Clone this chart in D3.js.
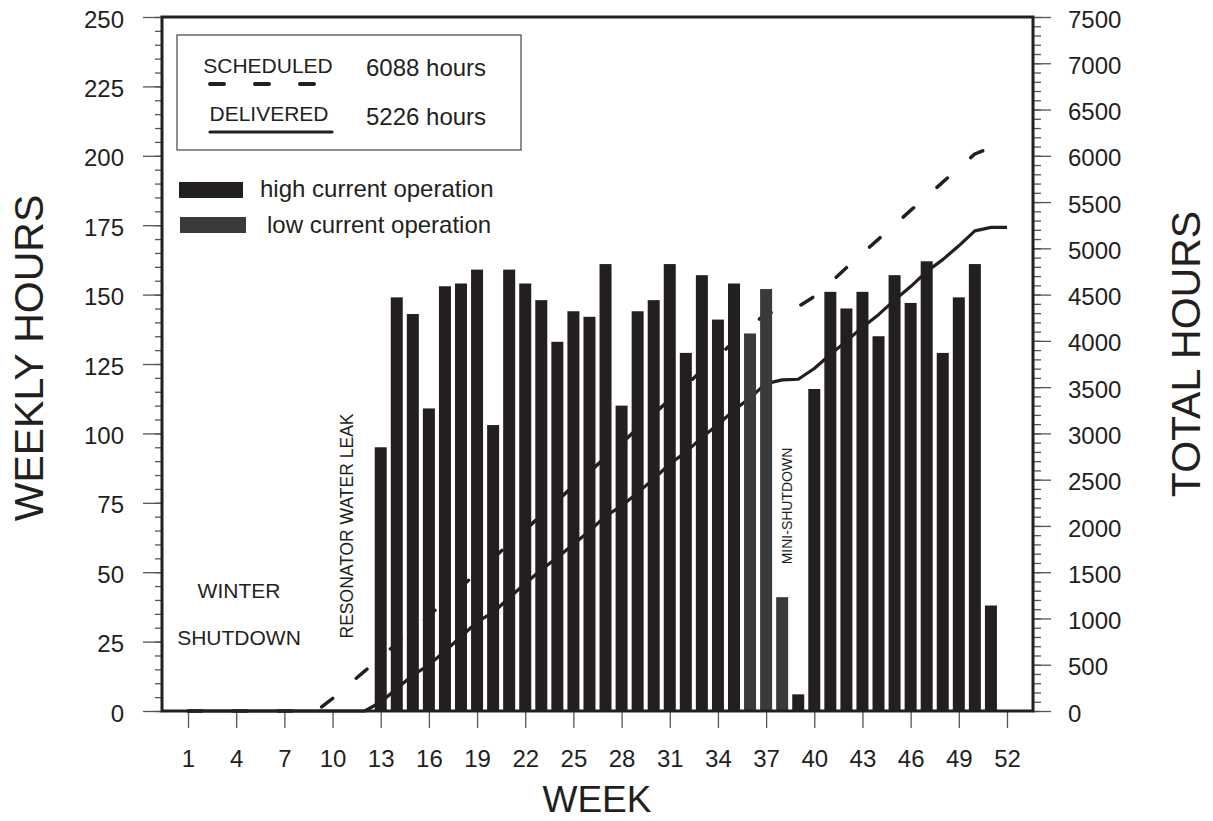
<!DOCTYPE html>
<html>
<head>
    <meta charset="utf-8">
    <script src="https://d3js.org/d3.v7.min.js"></script>
    <style>
        body {
            margin: 0;
            background: #fff;
        }

        text {
            font-family: "Liberation Sans", Arial, Helvetica, sans-serif;
            fill: #231f20;
        }

        .tick line {
            stroke: #555;
            stroke-width: 1.3px;
        }

        .domain {
            display: none;
        }
    </style>
</head>
<body>
    <div id="chart"></div>
    <script>
        const weeks = [1, 2, 3, 4, 5, 6, 7, 8, 9, 10, 11, 12, 13, 14, 15, 16, 17, 18, 19, 20, 21, 22, 23, 24, 25, 26,
            27, 28, 29, 30, 31, 32, 33, 34, 35, 36, 37, 38, 39, 40, 41, 42, 43, 44, 45, 46, 47, 48, 49, 50, 51, 52];

        // weekly delivered hours (bars)
        const weeklyHours = [0, 0, 0, 0, 0, 0, 0, 0, 0, 0, 0, 0, 95, 149, 143, 109, 153, 154, 159, 103, 159, 154,
            148, 133, 144, 142, 161, 110, 144, 148, 161, 129, 157, 141, 154, 136, 152, 41, 6, 116, 151, 145, 151,
            135, 157, 147, 162, 129, 149, 161, 38, 0];

        const lowCurrentWeeks = [36, 37, 38];

        // running totals (right axis)
        const deliveredTotal = [0, 0, 0, 0, 0, 0, 0, 0, 0, 0, 0, 0, 95, 244, 387, 496, 649, 803, 962, 1065, 1224,
            1378, 1526, 1659, 1803, 1945, 2106, 2216, 2360, 2508, 2669, 2798, 2955, 3096, 3250, 3386, 3538, 3579,
            3585, 3701, 3852, 3997, 4148, 4283, 4440, 4587, 4749, 4878, 5027, 5188, 5226, 5226];

        const scheduledTotal = [0, 0, 0, 0, 0, 0, 0, 0, 0, 135, 285, 430, 580, 730, 880, 1030, 1185, 1340, 1495,
            1650, 1805, 1960, 2115, 2275, 2430, 2585, 2740, 2895, 3055, 3210, 3365, 3520, 3680, 3835, 3990, 4145,
            4300, 4320, 4370, 4480, 4630, 4790, 4945, 5100, 5255, 5410, 5560, 5715, 5870, 6020, 6088, 6088];

        const weekTicks = [1, 4, 7, 10, 13, 16, 19, 22, 25, 28, 31, 34, 37, 40, 43, 46, 49, 52];
        const leftTicks = [0, 25, 50, 75, 100, 125, 150, 175, 200, 225, 250];
        const rightTicks = [0, 500, 1000, 1500, 2000, 2500, 3000, 3500, 4000, 4500, 5000, 5500, 6000, 6500, 7000, 7500];

        const scheduledLabel = "SCHEDULED", scheduledSum = "6088 hours";
        const deliveredLabel = "DELIVERED", deliveredSum = "5226 hours";

        const width = 1213, height = 821;
        const mLeft = 162, mRight = 1033, mTop = 17, mBottom = 711;
        const dark = "#231f20", grey = "#3a3a3d";

        const svg = d3.select("#chart").append("svg")
            .attr("width", width)
            .attr("height", height);

        const x = d3.scaleLinear().domain([-0.62, 53.62]).range([mLeft, mRight]);
        const yL = d3.scaleLinear().domain([0, 250]).range([mBottom, mTop]);
        const yR = d3.scaleLinear().domain([0, 7500]).range([mBottom, mTop]);

        // axes
        svg.append("g")
            .attr("transform", `translate(${mLeft},0)`)
            .call(d3.axisLeft(yL).tickValues(d3.range(0, 251, 5)).tickSize(7).tickFormat(""));
        svg.append("g")
            .attr("transform", `translate(${mLeft},0)`)
            .call(d3.axisLeft(yL).tickValues(leftTicks).tickSize(19).tickPadding(19))
            .selectAll("text")
            .attr("font-size", 24)
            .attr("dy", "0.42em");

        svg.append("g")
            .attr("transform", `translate(${mRight},0)`)
            .call(d3.axisRight(yR).tickValues(d3.range(0, 7501, 100)).tickSize(8).tickFormat(""));
        svg.append("g")
            .attr("transform", `translate(${mRight},0)`)
            .call(d3.axisRight(yR).tickValues(rightTicks).tickSize(18).tickPadding(17).tickFormat(d3.format("d")))
            .selectAll("text")
            .attr("font-size", 24)
            .attr("dy", "0.42em");

        svg.append("g")
            .attr("transform", `translate(0,${mBottom})`)
            .call(d3.axisBottom(x).tickValues(weekTicks).tickSize(17).tickPadding(22))
            .selectAll("text")
            .attr("font-size", 24);

        // cumulative lines sit behind the bars
        const lineR = d3.line()
            .x((d, i) => x(weeks[i]))
            .y(d => yR(d));

        svg.append("path")
            .datum(scheduledTotal)
            .attr("d", lineR)
            .attr("fill", "none")
            .attr("stroke", dark)
            .attr("stroke-width", 3.5)
            .attr("stroke-linecap", "round")
            .attr("stroke-dasharray", "14,31")
            .attr("stroke-dashoffset", 0);

        svg.append("path")
            .datum(deliveredTotal)
            .attr("d", lineR)
            .attr("fill", "none")
            .attr("stroke", dark)
            .attr("stroke-width", 3.2)
            .attr("stroke-linejoin", "round");

        const barW = 12;
        svg.append("g")
            .selectAll("rect")
            .data(weeks.filter((w, i) => weeklyHours[i] > 0))
            .enter().append("rect")
            .attr("x", w => x(w) - barW / 2)
            .attr("y", w => yL(weeklyHours[w - 1]))
            .attr("width", barW)
            .attr("height", w => mBottom - yL(weeklyHours[w - 1]))
            .attr("fill", w => lowCurrentWeeks.includes(w) ? grey : dark);

        // frame
        svg.append("rect")
            .attr("x", mLeft)
            .attr("y", mTop)
            .attr("width", mRight - mLeft)
            .attr("height", mBottom - mTop)
            .attr("fill", "none")
            .attr("stroke", dark)
            .attr("stroke-width", 3);

        // legend box
        svg.append("rect")
            .attr("x", 177)
            .attr("y", 35)
            .attr("width", 344)
            .attr("height", 115)
            .attr("fill", "#fff")
            .attr("stroke", "#444")
            .attr("stroke-width", 1.2);

        svg.append("text").attr("x", 268).attr("y", 73).attr("text-anchor", "middle")
            .attr("font-size", 21).text(scheduledLabel);
        svg.append("line")
            .attr("x1", 210).attr("x2", 318).attr("y1", 84).attr("y2", 84)
            .attr("stroke", dark).attr("stroke-width", 4)
            .attr("stroke-linecap", "round")
            .attr("stroke-dasharray", "14,31");
        svg.append("text").attr("x", 366).attr("y", 76).attr("font-size", 24).text(scheduledSum);

        svg.append("text").attr("x", 269).attr("y", 121).attr("text-anchor", "middle")
            .attr("font-size", 21).text(deliveredLabel);
        svg.append("line")
            .attr("x1", 210).attr("x2", 332).attr("y1", 132).attr("y2", 132)
            .attr("stroke", dark).attr("stroke-width", 3.2)
            .attr("stroke-linecap", "round");
        svg.append("text").attr("x", 366).attr("y", 125).attr("font-size", 24).text(deliveredSum);

        // bar legend
        svg.append("rect").attr("x", 179).attr("y", 182).attr("width", 64).attr("height", 16).attr("fill", dark);
        svg.append("text").attr("x", 260).attr("y", 197).attr("font-size", 24).text("high current operation");
        svg.append("rect").attr("x", 180).attr("y", 217).attr("width", 66).attr("height", 16).attr("fill", grey);
        svg.append("text").attr("x", 267).attr("y", 233).attr("font-size", 24).text("low current operation");

        // annotations
        svg.append("text").attr("x", 239).attr("y", 598).attr("text-anchor", "middle")
            .attr("font-size", 21).text("WINTER");
        svg.append("text").attr("x", 239).attr("y", 645).attr("text-anchor", "middle")
            .attr("font-size", 21).text("SHUTDOWN");
        svg.append("text")
            .attr("transform", `translate(${353},${526}) rotate(-90)`)
            .attr("text-anchor", "middle")
            .attr("font-size", 17.5)
            .text("RESONATOR WATER LEAK");
        svg.append("text")
            .attr("transform", `translate(${792},${506}) rotate(-90)`)
            .attr("text-anchor", "middle")
            .attr("font-size", 14)
            .text("MINI-SHUTDOWN");

        // axis titles
        svg.append("text")
            .attr("transform", `translate(${43},${358}) rotate(-90)`)
            .attr("text-anchor", "middle")
            .attr("font-size", 41)
            .text("WEEKLY HOURS");
        svg.append("text")
            .attr("transform", `translate(${1200},${354}) rotate(-90)`)
            .attr("text-anchor", "middle")
            .attr("font-size", 41)
            .text("TOTAL HOURS");
        svg.append("text")
            .attr("x", 597)
            .attr("y", 812)
            .attr("text-anchor", "middle")
            .attr("font-size", 37)
            .text("WEEK");
    </script>
</body>
</html>
